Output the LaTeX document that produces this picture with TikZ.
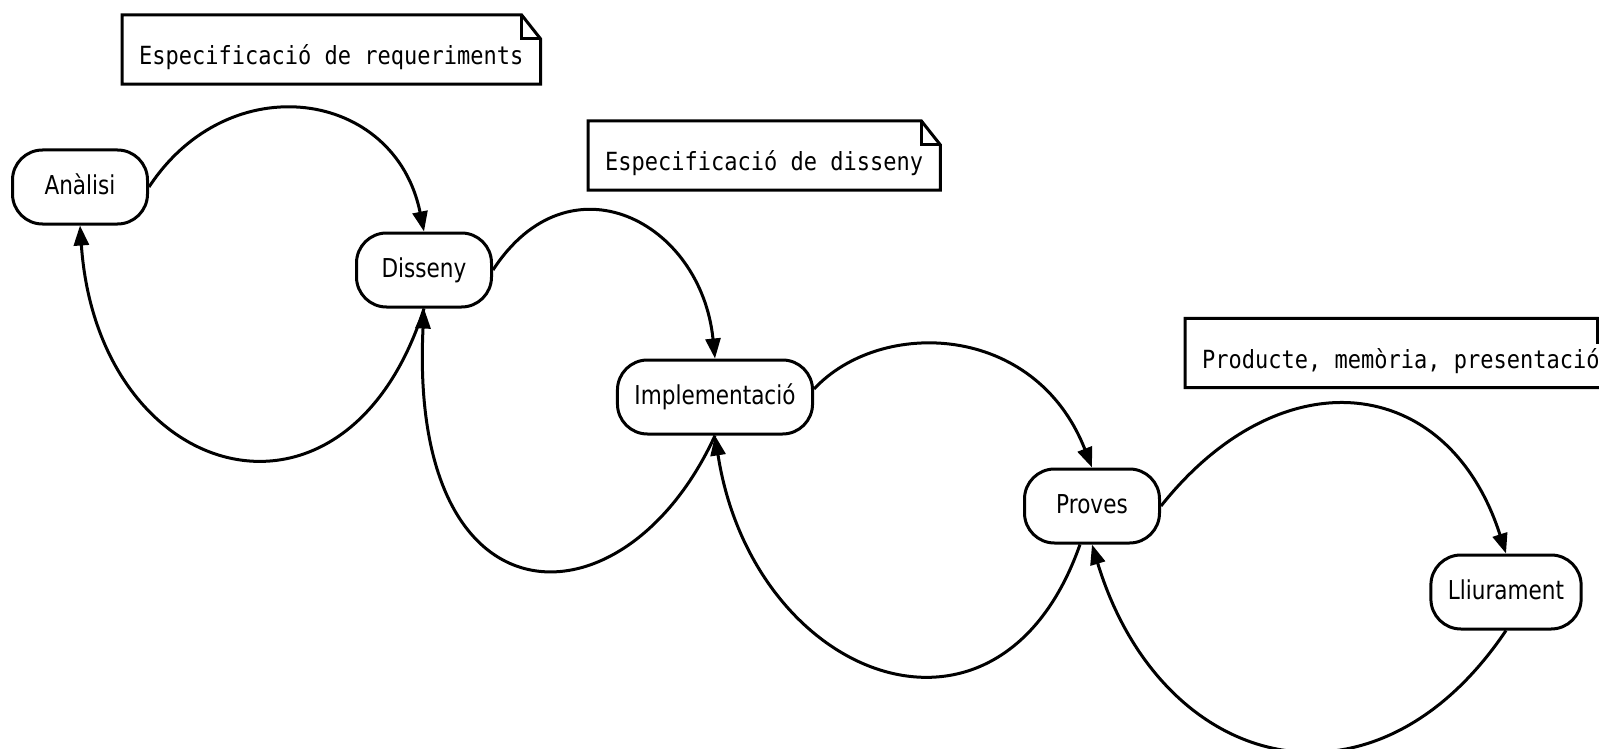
\documentclass[tikz,border=0pt]{standalone}
\usepackage{fontspec}
\newfontfamily\phasefont[FakeStretch=0.83]{DejaVu Sans}
\newfontfamily\notefont[FakeStretch=0.88]{DejaVu Sans Mono}
\usetikzlibrary{arrows.meta}

\begin{document}
\begin{tikzpicture}[
    x=1pt, y=-1pt, % pixel grid, y going down
    >={Triangle[length=20pt,width=15pt]},
    % Styles
    phase/.style={ % Phase of the project
        rectangle,
        rounded corners=30pt,
        draw,
        line width=3pt,
        minimum width=135pt,
        minimum height=74pt,
        inner xsep=17pt,
        text height=19pt,
        text depth=5pt,
        font=\phasefont\fontsize{26pt}{30pt}\selectfont
    },
    note/.style={ % Deliverable note
        anchor=west,
        inner xsep=17pt,
        inner ysep=5pt,
        text height=45pt,
        text depth=14pt,
        font=\notefont\fontsize{25pt}{30pt}\selectfont
    },
    notefrm/.style={ % Note frame with folded corner
        line width=3pt,
        line join=miter
    },
    arc/.style={ % Arcs between phases
        ->,
        line width=3pt
    }
]
    \useasboundingbox (0,0) rectangle (1599,749);

    % Phases
    \node [phase] (ana) at (80,187) {Anàlisi};
    \node [phase] (dis) at (424,270) {Disseny};
    \node [phase] (imp) at (715,397) {Implementació};
    \node [phase] (pro) at (1092,506) {Proves};
    \node [phase] (lli) at (1506,592) {Lliurament};

    % Notes
    \node [note] (reqnote) at (122,49.5) {Especificació de requeriments};
    \node [note] (dsnnote) at (588,155.5) {Especificació de disseny};
    \node [note] (lliunote) at (1185,353) {Producte, memòria, presentació};
    \foreach \nt in {reqnote, dsnnote, lliunote} {
        \draw [notefrm] (\nt.south west) -- (\nt.north west)
            -- ([xshift=-19pt]\nt.north east) -- ([yshift=-24pt]\nt.north east)
            -- (\nt.south east) -- cycle;
        \draw [notefrm] ([xshift=-19pt]\nt.north east) |- ([yshift=-24pt]\nt.north east);
    }

    % Forward arcs
    \draw [arc] (ana.east) .. controls (229,65) and (395,89) .. (dis.north);
    \draw [arc] (dis.east) .. controls (569,153) and (701,221) .. (imp.north);
    \draw [arc] ([yshift=8pt]imp.east) .. controls (880,318) and (1035,322) .. (pro.north);
    \draw [arc] (pro.east) .. controls (1281,355) and (1448,373) .. (lli.north);

    % Backward arcs
    \draw [arc] (dis.south) .. controls (346,553) and (98,484) .. (ana.south);
    \draw [arc] (imp.south) .. controls (625,632) and (408,633) .. (dis.south);
    \draw [arc] ([xshift=-12pt]pro.south) .. controls (999,775) and (753,680) .. (imp.south);
    \draw [arc] (lli.south) .. controls (1373,828) and (1161,771) .. (pro.south);
\end{tikzpicture}
\end{document}
